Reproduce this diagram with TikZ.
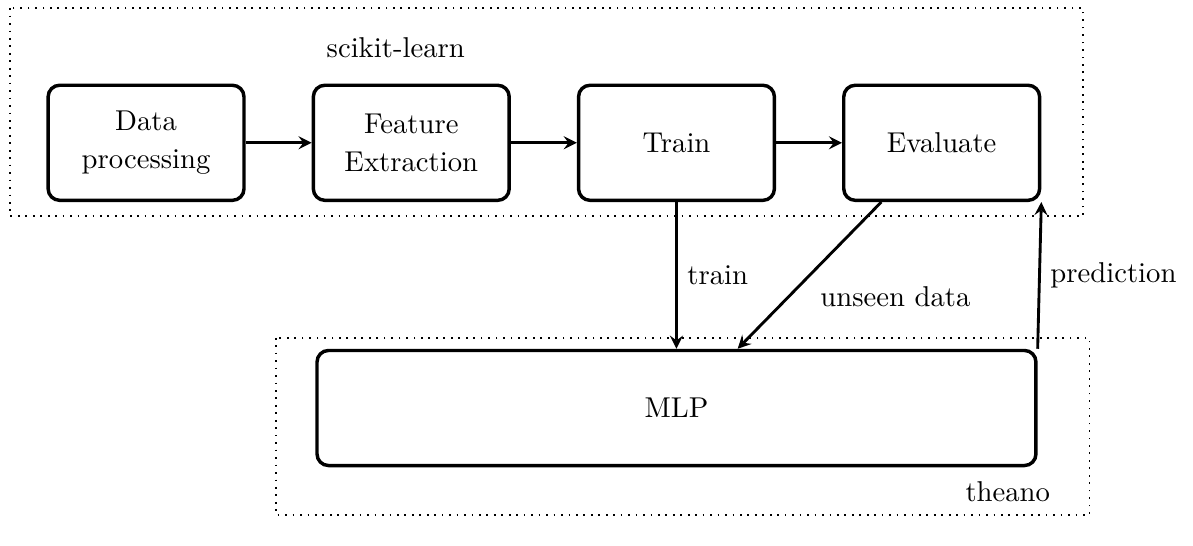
\documentclass[tikz,border=0pt]{standalone}
\usetikzlibrary{positioning}
\begin{document}
\begin{tikzpicture}[node distance=3.25cm,on grid,auto,>=stealth]
    \tikzset{block/.style={draw,very thick,rectangle,rounded corners=4pt,minimum width=2.4cm,minimum height=1.41cm,align=center}}
    \tikzset{group/.style={draw,dotted,semithick}}
    \tikzset{flow/.style={->,line width=1pt}}
    \useasboundingbox (0,0) rectangle (14.62,-6.68);
    % sklearn side
    \draw[group] (0.12,-0.10) rectangle (13.27,-2.65);
    \node (sklab) at (4.85,-0.59) {scikit-learn};
    \node[block] (data) at (1.79,-1.75) {Data\\[1pt]processing};
    \node[block] (feat) [right = of data] {Feature\\[1pt]Extraction};
    \node[block] (train) [right = of feat] {Train};
    \node[block] (eval) [right = of train] {Evaluate};
    % theano side
    \draw[group] (3.38,-4.14) rectangle (13.35,-6.31);
    \node[block,minimum width=8.81cm] (mlp) [below = of train] {MLP};
    \node (thlab) at (12.35,-6.03) {theano};
    \path[flow]
    (data) edge (feat)
    (feat) edge (train)
    (train) edge (eval)
    (train) edge node [right] {train} (mlp)
    ([xshift=-0.74cm]eval.south) edge node [below right] {unseen data} ([xshift=0.75cm]mlp.north)
    (mlp.north east) edge node [right] {prediction} (eval.south east)
    ;
\end{tikzpicture}
\end{document}
